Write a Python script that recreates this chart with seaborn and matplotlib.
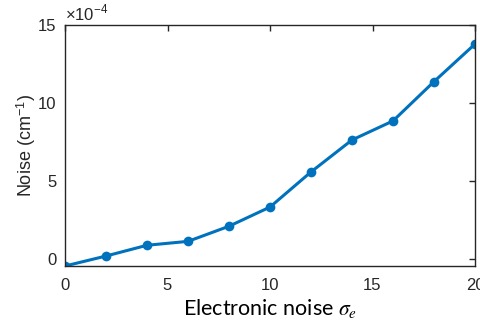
import matplotlib
matplotlib.use("Agg")
import matplotlib.pyplot as plt
import seaborn as sns
import pandas as pd

sigma_e = [0, 2, 4, 6, 8, 10, 12, 14, 16, 18, 20]
noise_e4 = [-0.45, 0.19, 0.88, 1.13, 2.1, 3.33, 5.58, 7.63, 8.85, 11.37, 13.78]
x_ticks = [0, 5, 10, 15, 20]
y_ticks = [0, 5, 10, 15]

sns.set_style("white")
plt.rcParams['font.family'] = ['Liberation Sans', 'DejaVu Sans']
plt.rcParams['mathtext.fontset'] = 'stix'

df = pd.DataFrame({"sigma": sigma_e, "noise": noise_e4})

fig = plt.figure(figsize=(4.8, 3.26), dpi=100)
ax = fig.add_axes([65/480, 1-265.7/326, (475-65)/480, (265.7-25)/326])
sns.lineplot(data=df, x="sigma", y="noise", ax=ax, color="#0072BD",
             linewidth=2.2, marker="o", markersize=7, markeredgewidth=0)

ax.set_xlim(0, 20)
ax.set_ylim(-0.43, 15)
ax.set_xticks(x_ticks)
ax.set_yticks(y_ticks)
ax.tick_params(direction="in", length=4, width=1, top=True, right=True,
               labelsize=12, colors="#262626")
ax.tick_params(axis="x", pad=9)
ax.tick_params(axis="y", pad=6)
for s in ax.spines.values():
    s.set_color("#262626")
    s.set_linewidth(1)
    s.set_visible(True)

ax.set_xlabel(r"Electronic noise $\sigma_e$", fontsize=15.5, family=['Lato', 'DejaVu Sans'],
              color="#000000", labelpad=3)
ax.set_ylabel(r"Noise (cm$^{\mathregular{-1}}$)", fontsize=13, color="#262626", labelpad=0)
ax.text(0.0, 1.008, "×10$^{\\mathregular{-4}}$", transform=ax.transAxes, fontsize=12,
        color="#262626", ha="left", va="bottom")

fig.savefig("out.png", dpi=100)
